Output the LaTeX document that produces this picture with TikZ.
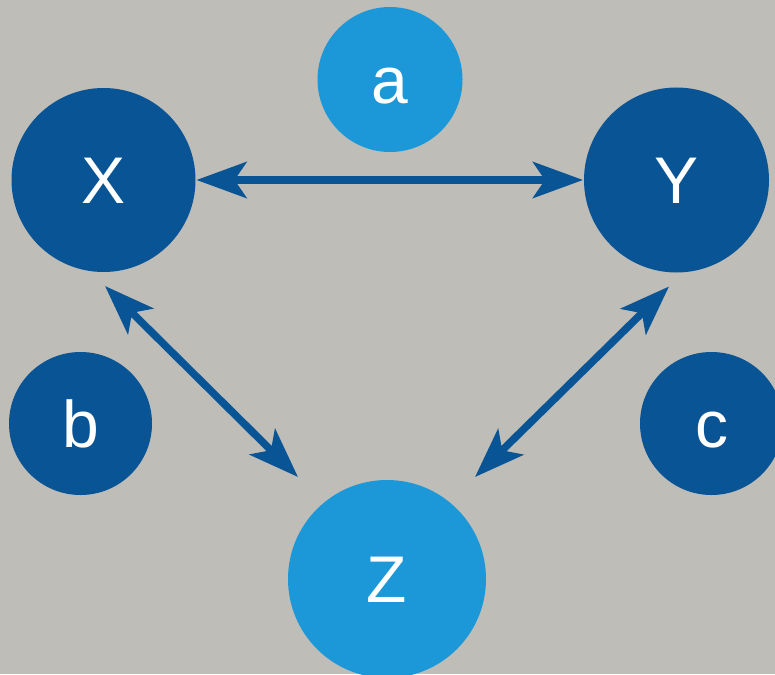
\documentclass[tikz,border=0pt]{standalone}
\usepackage{fontspec}
\setmainfont{Liberation Sans}
\usepackage{tikz}
\usepackage{xcolor}
\usetikzlibrary{positioning}
\usetikzlibrary{shapes, arrows.meta}
\definecolor{bggray}{RGB}{190,189,184}
\definecolor{darkblue}{RGB}{9,84,148}
\definecolor{lightblue}{RGB}{28,152,216}
\tikzstyle{ball} = [circle, fill=darkblue, text=white, inner sep=0pt, outer sep=1pt,
font=\fontsize{66}{66}\selectfont, text height=47pt, text depth=0pt]
\tikzstyle{lightball} = [ball, fill=lightblue]
\tikzstyle{line} = [draw, darkblue, line width=7.5pt, <->, >={Stealth[length=50pt, width=36pt, inset=12pt]}]

\begin{document}
\begin{tikzpicture}[x=1pt, y=-1pt]
	
	\fill [bggray] (0,0) rectangle (775,674);
	\useasboundingbox (0,0) rectangle (775,674);
	
	% Place nodes
	\node [ball, minimum size=184pt] 		(X) at (103.5,180) 	{X};
	\node [ball, minimum size=185pt] 		(Y) at (676.5,180) 	{Y};
	\node [lightball, minimum size=198pt] 	(Z) at (387,579) 	{Z};
	\node [lightball, minimum size=145pt] 	(a) at (390,79.5) 	{a};
	\node [ball, minimum size=143pt] 		(b) at (80.5,423.5) {b};
	\node [ball, minimum size=143pt] 		(c) at (711.5,423.5) {c};
	
	%Draw edges
	\path [line] (X) 	-- 	(Y);
	\path [line] ([shift={(1.5,13)}]X.south) 	-- 	([shift={(-89,-2)}]Z.north);
	\path [line] ([shift={(-7.5,13)}]Y.south) 	-- 	([shift={(88,-2)}]Z.north);
	
\end{tikzpicture}
\end{document}
